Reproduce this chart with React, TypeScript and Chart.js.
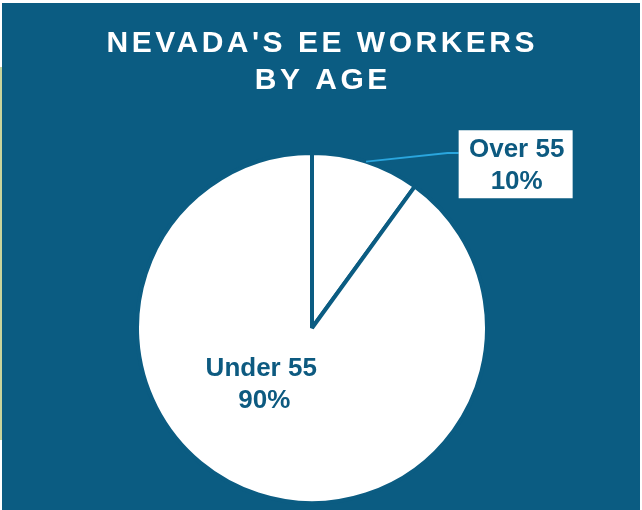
import React, { useEffect, useRef } from "react";
import { Chart, registerables } from "chart.js";

Chart.register(...registerables);

const categories = ["Over 55", "Under 55"];
const values = [10, 90];
const percentLabels = ["10%", "90%"];
const titleLines = ["NEVADA'S EE WORKERS", "BY AGE"];

const BG = "#0b5c82";
const TEXT_BLUE = "#0d5a80";
const LEADER = "#2aa6de";
const FONT = "'Liberation Sans', Arial, sans-serif";

function drawSpaced(ctx: CanvasRenderingContext2D, text: string, cx: number, cy: number, spacing: number) {
  (ctx as any).letterSpacing = spacing + "px";
  const w = ctx.measureText(text).width - spacing;
  ctx.textAlign = "left";
  ctx.fillText(text, cx - w / 2, cy);
  (ctx as any).letterSpacing = "0px";
}

const labelPlugin = {
  id: "customLabels",
  afterDraw(chart: any) {
    const ctx: CanvasRenderingContext2D = chart.ctx;
    const meta = chart.getDatasetMeta(0);
    const over = meta.data[0];
    const cx = over.x;
    const cy = over.y;
    const R = over.outerRadius;

    ctx.save();
    // title
    ctx.fillStyle = "#ffffff";
    ctx.font = `bold 30px ${FONT}`;
    ctx.textBaseline = "middle";
    drawSpaced(ctx, titleLines[0], chart.width / 2 - 0.5, 43.5, 3.5);
    drawSpaced(ctx, titleLines[1], chart.width / 2, 81, 3.5);

    // leader line for "Over 55"
    const mid = (over.startAngle + over.endAngle) / 2;
    const sx = cx + R * Math.cos(mid);
    const sy = cy + R * Math.sin(mid);
    const ex = cx + 0.775 * R;
    const ey = cy - 1.0 * R;
    const boxL = cx + 0.838 * R;
    const boxT = cy - 1.13 * R;
    const boxW = 114;
    const boxH = 68;
    ctx.strokeStyle = LEADER;
    ctx.lineWidth = 1.8;
    ctx.beginPath();
    ctx.moveTo(sx, sy);
    ctx.lineTo(ex, ey);
    ctx.lineTo(boxL, ey);
    ctx.stroke();

    ctx.fillStyle = "#ffffff";
    ctx.fillRect(boxL, boxT, boxW, boxH);

    ctx.fillStyle = TEXT_BLUE;
    ctx.font = `bold 26px ${FONT}`;
    ctx.textAlign = "center";
    ctx.textBaseline = "middle";
    const bx = boxL + boxW / 2;
    ctx.fillText(categories[0], bx + 1, boxT + 20);
    ctx.fillText(percentLabels[0], bx + 1, boxT + 52);

    // "Under 55" label inside slice
    const ux = cx - 0.29 * R;
    const uy = cy + 0.235 * R;
    ctx.fillText(categories[1], ux, uy);
    ctx.fillText(percentLabels[1], ux + 3, uy + 32);
    ctx.restore();
  },
};

export default function App() {
  const ref = useRef<HTMLCanvasElement>(null);
  useEffect(() => {
    document.body.style.margin = "0";
    const chart = new Chart(ref.current!, {
      type: "pie",
      data: {
        labels: categories,
        datasets: [
          {
            data: values,
            backgroundColor: ["#ffffff", "#ffffff"],
            borderColor: BG,
            borderWidth: 4,
          },
        ],
      },
      options: {
        animation: false,
        responsive: false,
        layout: { padding: { left: 135, right: 153, top: 151, bottom: 5 } },
        plugins: {
          legend: { display: false },
          tooltip: { enabled: false },
          title: { display: false },
        },
      },
      plugins: [labelPlugin],
    });
    return () => chart.destroy();
  }, []);

  return (
    <div style={{ position: "absolute", left: 0, top: 0, width: 642, height: 510, background: "#ffffff", overflow: "hidden" }}>
      <div style={{ position: "absolute", left: 0, top: 67, width: 2, height: 373, background: "#c9d49c" }} />
      <div style={{ position: "absolute", left: 2, top: 3, width: 638, height: 507, background: BG }} />
      <canvas ref={ref} width={642} height={510} style={{ position: "absolute", left: 0, top: 0, width: 642, height: 510 }} />
    </div>
  );
}
